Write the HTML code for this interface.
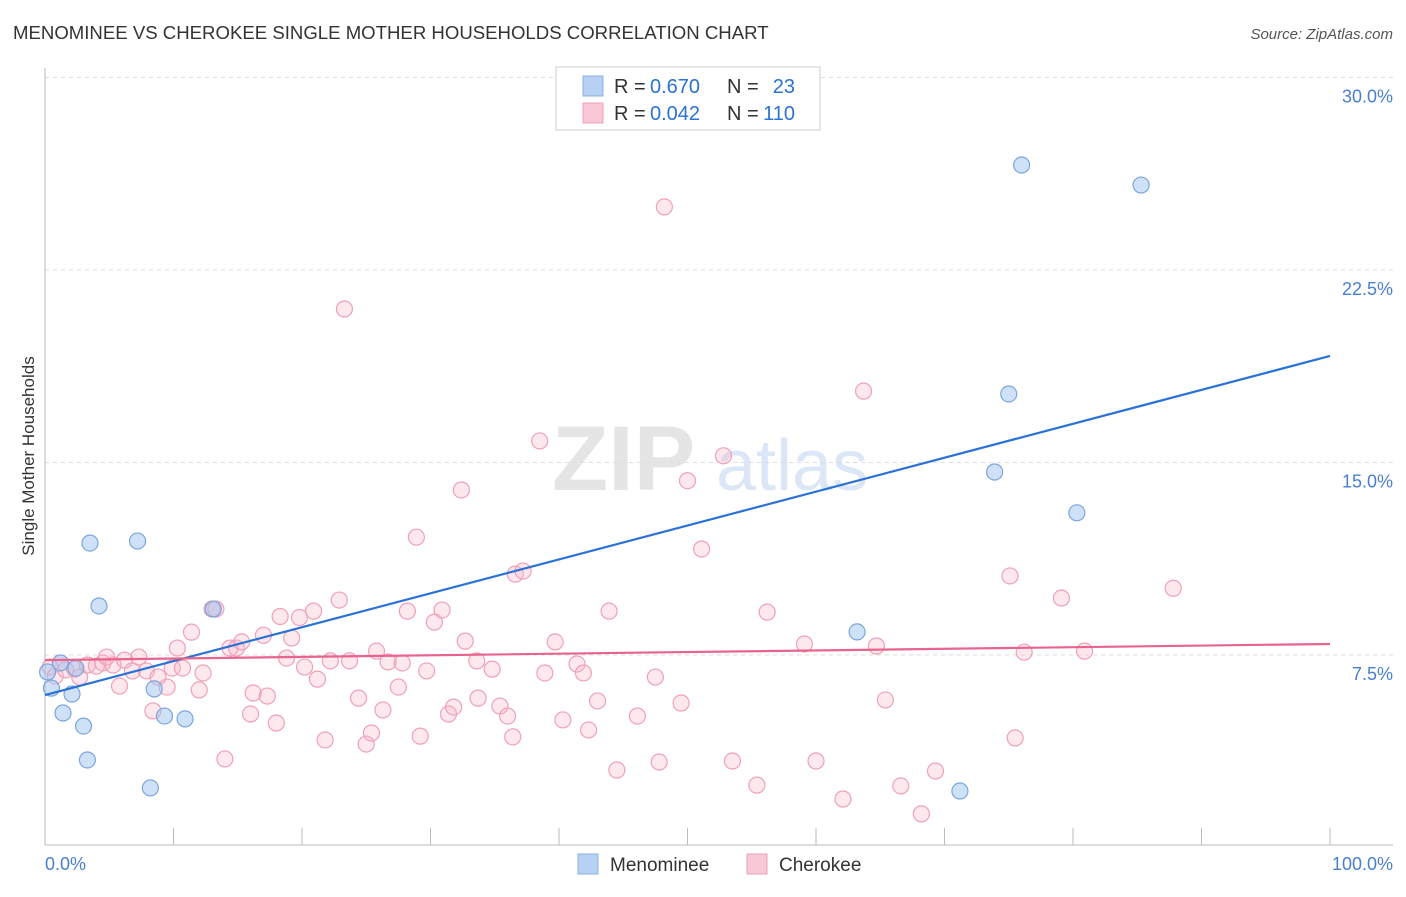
<!DOCTYPE html>
<html><head><meta charset="utf-8"><style>
body{margin:0;background:#fff;font-family:"Liberation Sans",sans-serif}
svg text{font-family:"Liberation Sans",sans-serif}
</style></head><body>
<svg id="chart" width="1406" height="892" viewBox="0 0 1406 892" xmlns="http://www.w3.org/2000/svg">
<text x="13" y="39" font-size="18.6" fill="#333">MENOMINEE VS CHEROKEE SINGLE MOTHER HOUSEHOLDS CORRELATION CHART</text>
<text x="1393" y="39" font-size="15" fill="#555" font-style="italic" text-anchor="end">Source: ZipAtlas.com</text>
<text transform="translate(34,456) rotate(-90)" font-size="17" fill="#333" text-anchor="middle">Single Mother Households</text>
<g opacity="0.5">
<text x="552" y="490" font-size="92" fill="#ccc" font-family="Liberation Serif" font-weight="bold">ZIP</text>
<text x="716" y="490" font-size="72" fill="#b8cfee">atlas</text>
</g>
<g id="grid"></g>
<g id="axes"></g>
<g id="points"></g>
<g id="lines"></g>
<g>
<rect x="556" y="67" width="264" height="63" fill="#fff" stroke="#ccc"/>
<rect x="583" y="76" width="20" height="20" fill="#b7d1f4" stroke="#8ab0e0"/>
<rect x="583" y="103" width="20" height="20" fill="#f9c8d7" stroke="#f0a0b8"/>
<text x="614" y="93" font-size="20" fill="#333">R =</text>
<text x="650" y="93" font-size="20" fill="#2a72d6">0.670</text>
<text x="727" y="93" font-size="20" fill="#333">N =</text>
<text x="795" y="93" font-size="20" fill="#2a72d6" text-anchor="end">23</text>
<text x="614" y="120" font-size="20" fill="#333">R =</text>
<text x="650" y="120" font-size="20" fill="#2a72d6">0.042</text>
<text x="727" y="120" font-size="20" fill="#333">N =</text>
<text x="795" y="120" font-size="20" fill="#2a72d6" text-anchor="end">110</text>
</g>
<g>
<rect x="578" y="854" width="20" height="20" fill="#b7d1f4" stroke="#8ab0e0"/>
<text x="610" y="871" font-size="19" fill="#333">Menominee</text>
<rect x="747" y="854" width="20" height="20" fill="#f9c8d7" stroke="#f0a0b8"/>
<text x="779" y="871" font-size="19" fill="#333">Cherokee</text>
</g>
</svg>
<script>
const yTicks=[7.5,15,22.5,30];
const yTickLabels=["7.5%","15.0%","22.5%","30.0%"];
const xTickLabels=["0.0%","100.0%"];
const menX=[0.5,1.4,2.1,3.5,4.2,3.0,3.3,7.2,8.5,9.3,10.9,8.2,13.1,76.0,85.3,75.0,73.9,80.3,63.2,71.2,1.2,0.2,2.4];
const menY=[6.21,5.24,5.98,11.86,9.41,4.73,3.41,11.94,6.18,5.12,5.01,2.32,9.29,26.59,25.81,17.67,14.63,13.04,8.40,2.20,7.19,6.84,6.99];
const cheX=[0.4,0.8,1.2,1.6,2.3,2.7,3.3,4.0,4.5,4.8,5.3,5.8,6.2,6.8,7.3,7.9,8.4,8.8,9.5,9.9,10.3,10.7,11.4,12.0,12.3,13.0,13.3,14.0,14.4,14.9,15.3,16.0,16.2,17.0,17.3,18.0,18.3,18.8,19.2,19.8,20.2,20.9,21.2,21.8,22.2,22.9,23.3,23.7,24.4,25.0,25.4,25.8,26.3,26.7,27.5,27.8,28.2,28.9,29.2,29.7,30.3,30.9,31.4,31.8,32.4,32.7,33.6,33.7,34.8,35.4,36.0,36.4,36.6,37.2,38.5,38.9,39.7,40.3,41.4,41.9,42.3,43.0,43.9,44.5,46.1,47.5,47.8,48.2,49.5,50.0,51.1,52.8,53.5,55.4,56.2,59.1,60.0,62.1,63.7,64.7,65.4,66.6,68.2,69.3,75.1,75.5,76.2,79.1,80.9,87.8];
const cheY=[7.03,6.68,7.19,6.92,6.95,6.64,7.11,7.07,7.19,7.42,7.11,6.29,7.30,6.88,7.42,6.88,5.32,6.64,6.25,6.99,7.77,6.99,8.39,6.14,6.80,9.29,9.29,3.45,7.77,7.77,8.01,5.20,6.02,8.27,5.90,4.85,9.00,7.38,8.16,8.96,7.03,9.21,6.56,4.19,7.27,9.64,20.98,7.27,5.82,4.03,4.46,7.65,5.36,7.23,6.25,7.19,9.21,12.09,4.34,6.88,8.78,9.25,5.20,5.47,13.93,8.04,7.27,5.82,6.95,5.51,5.12,4.31,10.65,10.77,15.84,6.80,8.01,4.97,7.15,6.80,4.58,5.71,9.21,3.02,5.12,6.64,3.33,24.96,5.63,14.29,11.63,15.26,3.37,2.43,9.17,7.93,3.37,1.89,17.78,7.85,5.75,2.40,1.31,2.98,10.58,4.27,7.61,9.72,7.65,10.10];
const menLine=[5.94,19.15];
const cheLine=[7.30,7.93];
const X0=45,X1=1330,Y0=847.5,PXPER=192.5/7.5;
const sx=v=>X0+(X1-X0)*v/100;
const sy=v=>Y0-v*PXPER;
const NS="http://www.w3.org/2000/svg";
function mk(tag,parent,attrs){const e=document.createElementNS(NS,tag);for(const k in attrs)e.setAttribute(k,attrs[k]);parent.appendChild(e);return e;}
const grid=document.getElementById('grid'),axes=document.getElementById('axes'),pts=document.getElementById('points'),lines=document.getElementById('lines');
yTicks.forEach((t,i)=>{
  const l=mk('line',grid,{x1:45,x2:1393,y1:sy(t),y2:sy(t),stroke:'#ddd','stroke-dasharray':'4,4'});
  
  
  const tx=mk('text',grid,{x:1393,y:sy(t)+25,'font-size':18,fill:'#4a7fd0','text-anchor':'end'});
  tx.textContent=yTickLabels[i];
  
  
});
const ax=mk('line',axes,{x1:45,x2:1393,y1:845,y2:845,stroke:'#bbb'});


const ay=mk('line',axes,{x1:45,x2:45,y1:68,y2:845,stroke:'#bbb'});


for(let i=1;i<=10;i++){
  const t=mk('line',axes,{x1:sx(i*10),x2:sx(i*10),y1:828,y2:845,stroke:'#bbb'});
  
  
}
const xl0=mk('text',axes,{x:45,y:870,'font-size':18,fill:'#4a7fd0'});xl0.textContent=xTickLabels[0];


const xl1=mk('text',axes,{x:1393,y:870,'font-size':18,fill:'#4a7fd0','text-anchor':'end'});xl1.textContent=xTickLabels[1];


cheX.forEach((x,i)=>{
  const c=mk('circle',pts,{cx:sx(x),cy:sy(cheY[i]),r:8,fill:'rgba(248,180,200,0.3)',stroke:'#f0a0b8','stroke-width':1.2});
  
  
});
menX.forEach((x,i)=>{
  const c=mk('circle',pts,{cx:sx(x),cy:sy(menY[i]),r:8,fill:'rgba(160,196,240,0.5)',stroke:'#7aa6de','stroke-width':1.2});
  
  
});
const bl=mk('line',lines,{x1:sx(0),x2:sx(100),y1:sy(menLine[0]),y2:sy(menLine[1]),stroke:'#2a72d6','stroke-width':2.2});


const pl=mk('line',lines,{x1:sx(0),x2:sx(100),y1:sy(cheLine[0]),y2:sy(cheLine[1]),stroke:'#e8648c','stroke-width':2.2});


</script>
</body></html>
